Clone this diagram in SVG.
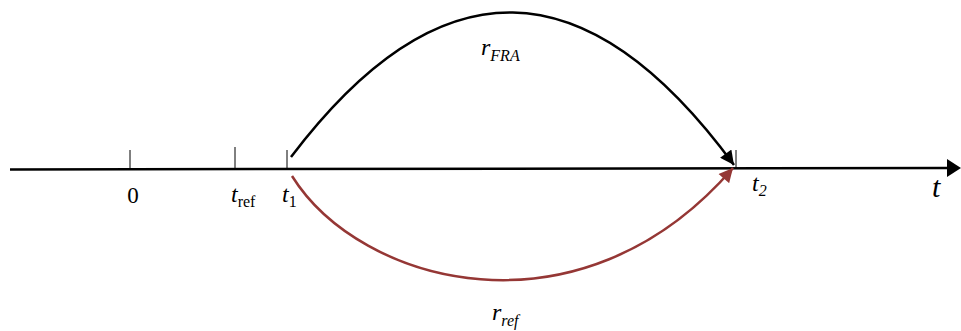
<svg xmlns="http://www.w3.org/2000/svg" width="961" height="331" viewBox="0 0 961 331">
<style>
.lbl text{font-family:'Liberation Serif','Times New Roman',serif}
.it{font-style:italic}
.tick{stroke:#000;stroke-width:1}
</style>
<defs>
<marker id="ab" markerWidth="15" markerHeight="14" refX="10" refY="5" orient="auto" markerUnits="userSpaceOnUse" viewBox="0 0 10 10"><path d="M0,0 L10,5 L0,10 z" fill="#000"/></marker>
<marker id="ar" markerWidth="15" markerHeight="14" refX="10" refY="5" orient="auto" markerUnits="userSpaceOnUse" viewBox="0 0 10 10"><path d="M0,0 L10,5 L0,10 z" fill="#953735"/></marker>
</defs>
<g id="axis">
<line x1="10" y1="169.5" x2="950" y2="168" stroke="#000" stroke-width="2.5"/>
<path d="M947,159 L961,168 L947,177 z" fill="#000"/>
<line class="tick" x1="130" y1="150" x2="130" y2="168"/>
<line class="tick" x1="235" y1="147" x2="235" y2="168"/>
<line class="tick" x1="287" y1="150" x2="287" y2="168"/>
<line class="tick" x1="736" y1="150" x2="736" y2="168"/>
</g>
<g id="connectors">
<path d="M291,157 Q513,-136 734,165" fill="none" stroke="#000" stroke-width="2.5" marker-end="url(#ab)"/>
<path d="M292,176 C360,285 580,345 733,168" fill="none" stroke="#953735" stroke-width="2.5" marker-end="url(#ar)"/>
</g>
<g id="labels" class="lbl" font-family="Liberation Serif, serif">
<text x="133" y="203" font-size="23" text-anchor="middle">0</text>
<text x="231" y="202" font-size="24" class="it">t<tspan font-style="normal" font-size="16" dy="5">ref</tspan></text>
<text x="282" y="202" font-size="24" class="it">t<tspan font-style="normal" font-size="16" dy="5">1</tspan></text>
<text x="752" y="191" font-size="24" class="it">t<tspan font-size="16" dy="5">2</tspan></text>
<text x="932" y="197" font-size="30" class="it">t</text>
<text x="481" y="55" font-size="24" class="it">r<tspan font-size="16" dy="6">FRA</tspan></text>
<text x="492" y="320" font-size="24" class="it">r<tspan font-size="16" dy="6">ref</tspan></text>
</g>
</svg>
